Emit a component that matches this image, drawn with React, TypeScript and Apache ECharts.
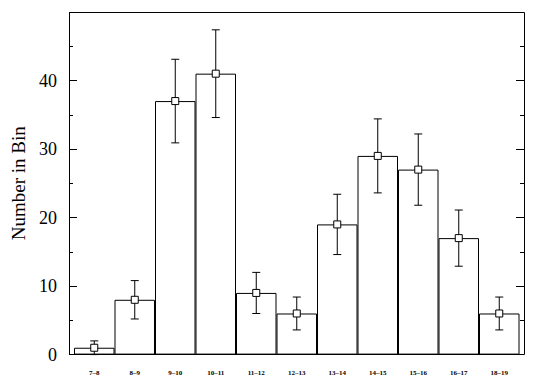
import React, { useEffect, useRef } from "react";
import * as echarts from "echarts";

const categories = ["7–8", "8–9", "9–10", "10–11", "11–12", "12–13", "13–14", "14–15", "15–16", "16–17", "18–19"];
const counts = [1, 8, 37, 41, 9, 6, 19, 29, 27, 17, 6];
const errLow = [0, 5.2, 30.9, 34.6, 6, 3.6, 14.6, 23.6, 21.8, 12.9, 3.6];
const errHigh = [2, 10.8, 43.1, 47.4, 12, 8.4, 23.4, 34.4, 32.2, 21.1, 8.4];
const yMax = 50;
const yInterval = 10;

const FONT = "'Liberation Serif', 'DejaVu Serif', serif";

export default function App() {
  const ref = useRef<HTMLDivElement>(null);
  useEffect(() => {
    document.body.style.margin = "0";
    const chart = echarts.init(ref.current!, null, { renderer: "svg" });
    const yAxisCommon = {
      type: "value",
      min: 0,
      max: yMax,
      interval: yInterval,
      splitLine: { show: false },
      axisLine: { show: false },
      axisTick: { show: true, inside: true, length: 8, lineStyle: { color: "#000", width: 1 } },
      minorTick: { show: true, splitNumber: 2, length: 4, lineStyle: { color: "#000", width: 1 } },
    };
    chart.setOption({
      animation: false,
      grid: { left: 74, right: 17.5, top: 12, bottom: 35.4, outerBoundsMode: "none", containLabel: false },
      graphic: [
        {
          type: "rect",
          shape: { x: 69.5, y: 12.5, width: 455, height: 342 },
          style: { fill: "none", stroke: "#000", lineWidth: 1 },
          z: 100,
        },
      ],
      xAxis: {
        type: "category",
        data: categories,
        boundaryGap: true,
        axisLine: { show: false },
        axisTick: { show: false },
        axisLabel: { color: "#000", fontFamily: FONT, fontSize: 7, fontWeight: "bold", margin: 15 },
      },
      yAxis: [
        {
          ...yAxisCommon,
          position: "left",
          offset: 5,
          name: "Number in Bin",
          nameLocation: "middle",
          nameGap: 33,
          nameTextStyle: { color: "#000", fontFamily: FONT, fontSize: 19 },
          axisLabel: {
            color: "#000",
            fontFamily: FONT,
            fontSize: 18,
            margin: 12,
            showMaxLabel: false,
          },
        },
        {
          ...yAxisCommon,
          position: "right",
          offset: 4.5,
          axisLabel: { show: false },
        },
      ],
      series: [
        {
          type: "bar",
          data: counts,
          barWidth: "100%",
          barCategoryGap: 0,
          itemStyle: { color: "#fff", borderColor: "#000", borderWidth: 1 },
          z: 2,
        },
        {
          type: "custom",
          data: counts.map((_, i) => [i, errLow[i], errHigh[i]]),
          renderItem: (params: any, api: any) => {
            const lo = api.coord([api.value(0), api.value(1)]);
            const hi = api.coord([api.value(0), api.value(2)]);
            const half = 4;
            const style = { stroke: "#000", lineWidth: 1, fill: "none" };
            return {
              type: "group",
              children: [
                { type: "line", shape: { x1: lo[0], y1: lo[1], x2: hi[0], y2: hi[1] }, style },
                { type: "line", shape: { x1: hi[0] - half, y1: hi[1], x2: hi[0] + half, y2: hi[1] }, style },
                { type: "line", shape: { x1: lo[0] - half, y1: lo[1], x2: lo[0] + half, y2: lo[1] }, style },
              ],
            };
          },
          z: 3,
        },
        {
          type: "scatter",
          data: counts,
          symbol: "rect",
          symbolSize: 7,
          itemStyle: { color: "#fff", borderColor: "#000", borderWidth: 1, opacity: 1 },
          z: 4,
        },
      ],
    });
    return () => chart.dispose();
  }, []);
  return <div ref={ref} style={{ width: 537, height: 390 }} />;
}
